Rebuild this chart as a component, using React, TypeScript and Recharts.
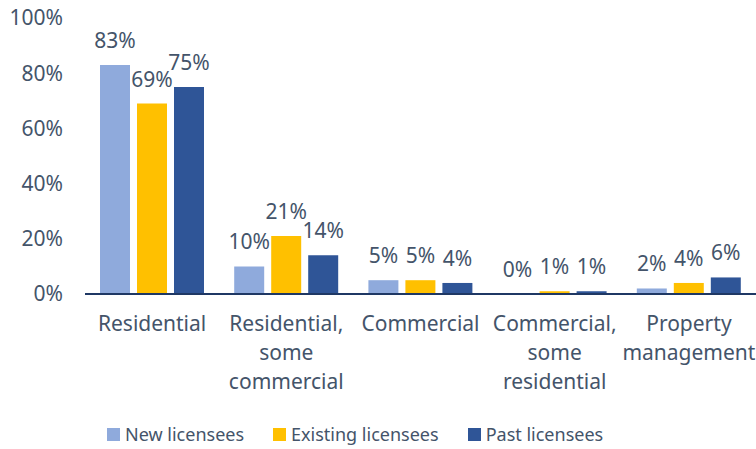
import { Bar, BarChart, LabelList, Legend, XAxis, YAxis } from "recharts";

const categories = [
  "Residential",
  "Residential,\nsome\ncommercial",
  "Commercial",
  "Commercial,\nsome\nresidential",
  "Property\nmanagement",
];
const newLicensees = [83, 10, 5, 0, 2];
const existingLicensees = [69, 21, 5, 1, 4];
const pastLicensees = [75, 14, 4, 1, 6];
const yTicks = [0, 20, 40, 60, 80, 100];

const data = categories.map((name, i) => ({
  name,
  newL: newLicensees[i],
  existing: existingLicensees[i],
  past: pastLicensees[i],
}));

const TEXT = "#44546A";
const FONT = "'Noto Sans', sans-serif";

function CategoryTick({ x, y, payload }: any) {
  const lines = String(payload.value).split("\n");
  return (
    <text x={x} y={y} textAnchor="middle" fill={TEXT} fontSize={21} fontFamily={FONT}>
      {lines.map((line, i) => (
        <tspan key={i} x={x} dy={29}>
          {line}
        </tspan>
      ))}
    </text>
  );
}

function LegendContent({ payload }: any) {
  return (
    <div
      style={{
        display: "flex",
        paddingLeft: 107,
        transform: "translateY(-3px)",
        fontFamily: FONT,
        fontSize: 18,
        color: TEXT,
      }}
    >
      {(payload || []).map((p: any, i: number) => (
        <div key={i} style={{ display: "flex", alignItems: "center", marginRight: 29 }}>
          <span style={{ width: 13, height: 13, background: p.color, display: "inline-block", marginRight: 5 }} />
          <span>{p.value}</span>
        </div>
      ))}
    </div>
  );
}

const pct = (v: any) => `${v}%`;
// keeps a zero bar in the list so its "0%" label is still drawn
const zeroMin = (v: any) => (v === 0 ? 0.5 : 0);

export default function App() {
  return (
    <div style={{ position: "absolute", left: 0, top: 0, background: "#fff" }}>
      <BarChart
        width={756}
        height={449}
        data={data}
        margin={{ top: 18, right: 0, left: 0, bottom: 0 }}
        barGap={7}
        barCategoryGap={15}
      >
        <XAxis
          dataKey="name"
          interval={0}
          height={131}
          tickLine={false}
          axisLine={{ stroke: "#1F3864", strokeWidth: 2 }}
          tick={<CategoryTick />}
        />
        <YAxis
          domain={[0, 100]}
          ticks={yTicks}
          tickFormatter={pct}
          axisLine={false}
          tickLine={false}
          tickSize={0}
          tickMargin={22}
          width={85}
          tick={{ fill: TEXT, fontSize: 21, fontFamily: FONT }}
        />
        <Legend verticalAlign="bottom" itemSorter={null} content={<LegendContent />} />
        <Bar dataKey="newL" name="New licensees" fill="#8FAADC" minPointSize={zeroMin} isAnimationActive={false}>
          <LabelList dataKey="newL" position="top" offset={17} formatter={pct} fill={TEXT} fontSize={21} fontFamily={FONT} />
        </Bar>
        <Bar dataKey="existing" name="Existing licensees" fill="#FFC000" isAnimationActive={false}>
          <LabelList dataKey="existing" position="top" offset={17} formatter={pct} fill={TEXT} fontSize={21} fontFamily={FONT} />
        </Bar>
        <Bar dataKey="past" name="Past licensees" fill="#2F5597" isAnimationActive={false}>
          <LabelList dataKey="past" position="top" offset={17} formatter={pct} fill={TEXT} fontSize={21} fontFamily={FONT} />
        </Bar>
      </BarChart>
    </div>
  );
}
